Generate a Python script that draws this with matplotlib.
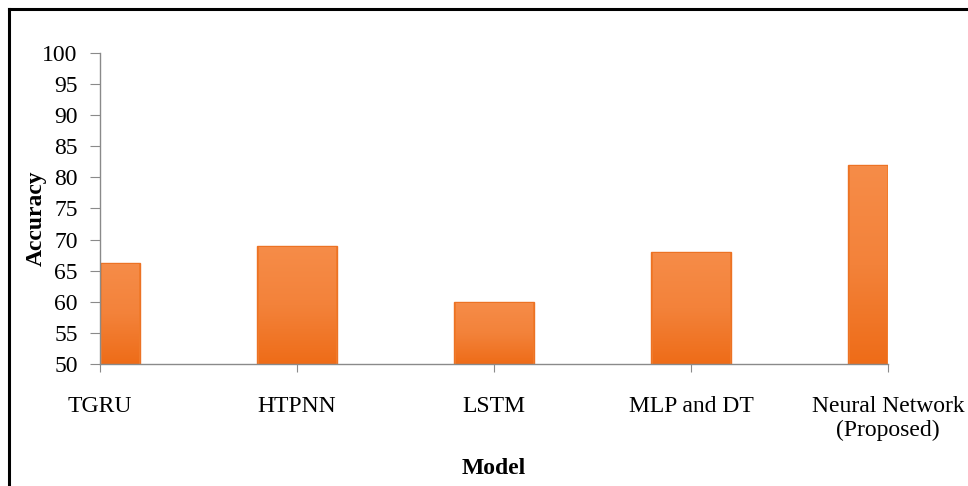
import numpy as np
import matplotlib
matplotlib.use('Agg')
import matplotlib.pyplot as plt
from matplotlib.colors import LinearSegmentedColormap
from matplotlib.lines import Line2D

models = ['TGRU', 'HTPNN', 'LSTM', 'MLP and DT', 'Neural Network\n(Proposed)']
accuracy = [66.2, 69, 60, 68, 82]
y_ticks = list(range(50, 101, 5))

plt.rcParams['font.family'] = ['Liberation Serif', 'DejaVu Serif']

fig = plt.figure(figsize=(9.68, 4.86), dpi=100)
ax = fig.add_axes([0.1033, 0.251, 0.8141, 0.640])

x = np.arange(len(models))
ax.set_xlim(0, len(models) - 1)
ax.set_ylim(50, 100)
bars = ax.bar(x, accuracy, width=0.41, color='#F27C2C', edgecolor='#EC7224',
              linewidth=1.0, zorder=2)

# vertical shading inside each bar: lighter top, deeper orange at the base
cmap = LinearSegmentedColormap.from_list('org', ['#EE6C18', '#F3823A', '#F68C48'])
img = cmap(np.linspace(0, 1, 128))[:, None, :]
xmin, xmax = ax.get_xlim()
for b in bars:
    x0 = max(b.get_x(), xmin)
    x1 = min(b.get_x() + b.get_width(), xmax)
    ax.imshow(img, extent=[x0 + 0.01, x1 - 0.01, 50, b.get_height() - 0.2],
              aspect='auto', origin='lower', zorder=3, interpolation='bilinear')
ax.set_xlim(xmin, xmax)
ax.set_ylim(50, 100)

ax.set_yticks(y_ticks)
ax.set_xticks(x)
ax.set_xticklabels(models, fontsize=17)
ax.tick_params(axis='y', labelsize=17, length=7, color='#8a8a8a', pad=9)
ax.tick_params(axis='x', length=6, color='#8a8a8a', pad=17)

for s in ['top', 'right']:
    ax.spines[s].set_visible(False)
for s in ['left', 'bottom']:
    ax.spines[s].set_color('#8a8a8a')
    ax.spines[s].set_linewidth(1.0)
    ax.spines[s].set_zorder(4)

ax.set_ylabel('Accuracy', fontsize=17, fontweight='bold')
ax.yaxis.set_label_coords(-0.068, 0.47)
ax.set_xlabel('Model', fontsize=17, fontweight='bold', labelpad=12)

# outer frame (only left and top edges visible in the source)
fig.add_artist(Line2D([0.0098, 0.0098], [0.0, 0.982], color='black', lw=2.2,
                      transform=fig.transFigure))
fig.add_artist(Line2D([0.0098, 1.0], [0.982, 0.982], color='black', lw=2.2,
                      transform=fig.transFigure))

fig.savefig('out.png', dpi=100)
